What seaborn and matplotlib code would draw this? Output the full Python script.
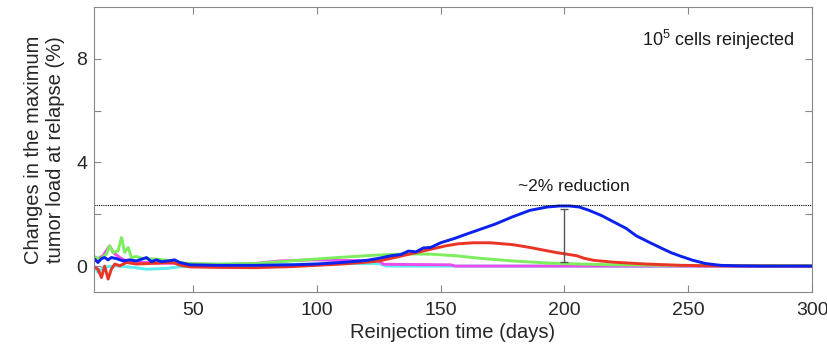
import numpy as np
import pandas as pd
import matplotlib
matplotlib.use("Agg")
import matplotlib.pyplot as plt
import seaborn as sns

# values (days, % change)
cyan_days = [10, 11.6, 13.6, 19, 25.8, 31.2, 39.2, 45, 60, 80, 100, 120, 125, 128, 300]
cyan_vals = [0.01, -0.24, -0.05, 0.01, -0.05, -0.12, -0.09, -0.02, -0.02, 0.05, 0.08, 0.10, 0.10, 0.0, 0.0]

magenta_days = [10, 13.6, 16.3, 17.7, 20.4, 23, 28, 35, 45, 60, 75, 85, 98, 110, 125, 127, 140, 154, 156, 200, 300]
magenta_vals = [0.20, 0.40, 0.78, 0.53, 0.33, 0.20, 0.15, 0.12, 0.10, 0.05, 0.10, 0.20, 0.24, 0.22, 0.20, 0.07, 0.06, 0.05, 0.0, 0.0, 0.0]

green_days = [10, 12.3, 15, 16.3, 17.7, 19.7, 21.1, 22.4, 23.8, 25.1, 27.1, 29.8, 35.2, 41.9, 44.6, 48.7,
              60, 75, 85, 95, 105, 115, 125, 135, 146, 156, 166, 179, 193, 206, 220, 240, 300]
green_vals = [0.37, 0.27, 0.46, 0.78, 0.53, 0.59, 1.10, 0.53, 0.72, 0.33, 0.37, 0.29, 0.27, 0.20, 0.14, 0.10,
              0.08, 0.10, 0.17, 0.24, 0.31, 0.37, 0.43, 0.47, 0.46, 0.40, 0.30, 0.20, 0.12, 0.08, 0.05, 0.03, 0.02]

red_days = [10, 11.6, 13, 14.3, 15.7, 17, 18.4, 20.4, 23.1, 27.1, 32.5, 41.9, 44.6, 48.7, 60, 75, 90, 100,
            110, 120, 125, 130, 140, 146, 152, 157, 163, 170, 179, 186, 193, 197, 201, 205, 208, 212, 220,
            233, 247, 260, 300]
red_vals = [-0.03, -0.12, -0.44, 0.0, -0.50, -0.12, 0.08, 0.01, 0.14, 0.08, 0.10, 0.14, 0.04, -0.03, -0.05,
            -0.06, -0.02, 0.03, 0.08, 0.15, 0.20, 0.30, 0.52, 0.65, 0.78, 0.86, 0.90, 0.90, 0.83, 0.72, 0.59,
            0.52, 0.46, 0.40, 0.30, 0.22, 0.15, 0.08, 0.03, 0.01, 0.0]

blue_days = [10, 11.6, 13, 14.3, 15.7, 17, 19, 21.7, 24.4, 27.1, 31.2, 33.2, 35.2, 37.2, 39.9, 42.6, 44.6,
             48.7, 60, 75, 90, 100, 110, 120, 125, 130, 134, 137, 140, 143, 146, 150, 156, 160, 166, 172,
             179, 186, 193, 198, 202, 206, 210, 215, 220, 225, 229, 234, 239, 243, 247, 252, 257, 263, 270,
             280, 300]
blue_vals = [0.29, 0.14, 0.29, 0.33, 0.24, 0.33, 0.29, 0.20, 0.24, 0.20, 0.33, 0.17, 0.24, 0.17, 0.20, 0.24,
             0.14, 0.05, 0.03, 0.03, 0.05, 0.08, 0.14, 0.22, 0.30, 0.40, 0.45, 0.58, 0.55, 0.70, 0.72, 0.90,
             1.08, 1.22, 1.42, 1.62, 1.90, 2.15, 2.28, 2.32, 2.32, 2.28, 2.15, 1.95, 1.70, 1.45, 1.17, 0.93,
             0.70, 0.52, 0.38, 0.22, 0.10, 0.03, 0.01, 0.0, 0.0]

max_level = 2.35           # dotted reference line (blue peak)
bar_day = 200
bar_low, bar_high = 0.17, 2.19

series = [
    (cyan_days, cyan_vals, "#5cecf0"),
    (magenta_days, magenta_vals, "#ec4cec"),
    (green_days, green_vals, "#7ced5c"),
    (red_days, red_vals, "#ec3426"),
    (blue_days, blue_vals, "#0b22ee"),
]

sns.set_theme(style="white")
plt.rcParams["font.family"] = ["Liberation Sans", "DejaVu Sans"]
plt.rcParams["mathtext.default"] = "regular"

fig = plt.figure(figsize=(8.27, 3.45), dpi=100)
ax = fig.add_axes([0.1137, 0.1536, 0.9819 - 0.1137, 0.9797 - 0.1536])

for days, vals, col in series:
    df = pd.DataFrame({"day": days, "val": vals})
    sns.lineplot(data=df, x="day", y="val", color=col, linewidth=2.1, ax=ax)

ax.axhline(max_level, color="black", linestyle=(0, (1, 1)), linewidth=0.8)
ax.errorbar([bar_day], [(bar_low + bar_high) / 2], yerr=[[(bar_high - bar_low) / 2]],
            color="#555555", capsize=3, linewidth=1.0, capthick=1.0)
ax.text(204, 3.08, "~2% reduction", fontsize=12.5, ha="center", va="center", color="#1a1a1a")
ax.text(0.976, 0.884, "$10^5$ cells reinjected", transform=ax.transAxes, fontsize=13,
        ha="right", va="center", color="#1a1a1a")

ax.set_xlim(10, 300)
ax.set_ylim(-1, 10)
ax.set_xticks([50, 100, 150, 200, 250, 300])
ax.set_yticks([0, 2, 4, 6, 8])
ax.set_yticklabels(["0", "", "4", "", "8"])
ax.tick_params(direction="in", length=5, width=0.8, colors="#888888", labelcolor="#262626",
               labelsize=14, top=True, right=True, bottom=True, left=True)
ax.tick_params(axis="y", pad=5)
ax.tick_params(axis="x", pad=7)
for s in ax.spines.values():
    s.set_visible(True)
    s.set_color("#888888")
    s.set_linewidth(0.8)

ax.set_xlabel("Reinjection time (days)", fontsize=14.5, color="#262626", labelpad=3)
ax.set_ylabel("Changes in the maximum\ntumor load at relapse (%)", fontsize=14.5,
              color="#262626", labelpad=8)

fig.savefig("out.png", dpi=100)
